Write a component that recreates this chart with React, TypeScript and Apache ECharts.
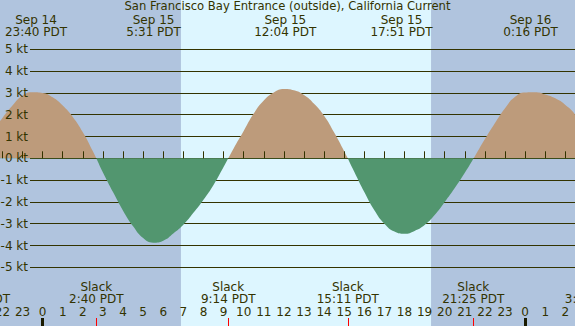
import React, { useEffect, useRef } from "react";
import * as echarts from "echarts";

const W = 575;
const H = 326;

// hours measured from Sep 15 00:00 PDT
const xMin = -2.12;
const xMax = 26.48;
const yMin = -7.69;
const yMax = 7.26;

const TITLE = "San Francisco Bay Entrance (outside), California Current";

// current speed (kt), every half hour
const curveHours = [
  -3.0, -2.5, -2.0, -1.5, -1.0, -0.5, 0.0, 0.5, 1.0, 1.5, 2.0, 2.5,
  3.0, 3.5, 4.0, 4.5, 5.0, 5.5, 6.0, 6.5, 7.0, 7.5, 8.0, 8.5, 9.0,
  9.5, 10.0, 10.5, 11.0, 11.5, 12.0, 12.5, 13.0, 13.5, 14.0, 14.5, 15.0,
  15.5, 16.0, 16.5, 17.0, 17.5, 18.0, 18.5, 19.0, 19.5, 20.0, 20.5, 21.0,
  21.5, 22.0, 22.5, 23.0, 23.5, 24.0, 24.5, 25.0, 25.5, 26.0, 26.5, 27.0, 27.5,
];
const curveKnots = [
  0.33, 1.2, 1.85, 2.42, 2.88, 3.03, 3.0, 2.8, 2.42, 1.9, 1.2, 0.32,
  -0.65, -1.55, -2.4, -3.12, -3.66, -3.87, -3.78, -3.45, -3.05, -2.5, -1.9, -1.22, -0.4,
  0.45, 1.25, 2.05, 2.65, 3.02, 3.18, 3.12, 2.9, 2.5, 1.95, 1.18, 0.32,
  -0.62, -1.55, -2.38, -3.0, -3.36, -3.46, -3.33, -3.06, -2.6, -2.0, -1.36, -0.66,
  0.1, 0.88, 1.62, 2.3, 2.82, 3.02, 3.03, 2.93, 2.75, 2.45, 1.98, 1.0, -0.3,
];

// max flood / max ebb events (top labels)
const eventHours = [-0.33, 5.52, 12.07, 17.85, 24.27];
const eventDates = ["Sep 14", "Sep 15", "Sep 15", "Sep 15", "Sep 16"];
const eventTimes = ["23:40 PDT", "5:31 PDT", "12:04 PDT", "17:51 PDT", "0:16 PDT"];

// slack water (bottom labels)
const slackHours = [-3.17, 2.67, 9.23, 15.18, 21.42, 27.33];
const slackTimes = ["20:50 PDT", "2:40 PDT", "9:14 PDT", "15:11 PDT", "21:25 PDT", "3:20 PDT"];

// hour ticks along the bottom
const hourTicks = [
  -2, -1, 0, 1, 2, 3, 4, 5, 6, 7, 8, 9, 10, 11, 12, 13, 14,
  15, 16, 17, 18, 19, 20, 21, 22, 23, 24, 25, 26,
];
const midnightTicks = [0, 24];

// daylight (sunrise, sunset)
const daylight = [6.88, 19.32];

// knot gridlines
const ktMin = -5;
const ktMax = 5;

const NIGHT = "#b0c4de";
const DAY = "#ddf6ff";
const FLOOD = "#bd9b7b";
const EBB = "#52966f";
const INK = "#333300";
const FONT = "DejaVu Sans";

function nearestIndex(arr: number[], v: number) {
  let best = 0;
  for (let i = 1; i < arr.length; i++) {
    if (Math.abs(arr[i] - v) < Math.abs(arr[best] - v)) best = i;
  }
  return best;
}

export default function App() {
  const ref = useRef<HTMLDivElement>(null);

  useEffect(() => {
    document.body.style.margin = "0";
    if (!ref.current) return;
    const chart = echarts.init(ref.current, undefined, { renderer: "svg" });

    const zeroY = (H * yMax) / (yMax - yMin);
    const r = zeroY / H;
    const g1Top = (H * (yMax - ktMax)) / (yMax - yMin);
    const g1Bottom = (H * (ktMin - yMin)) / (yMax - yMin);

    const baseX = { type: "value", min: xMin, max: xMax, gridIndex: 0, z: 3, splitLine: { show: false }, axisLine: { show: false } };

    chart.setOption({
      animation: false,
      textStyle: { fontFamily: FONT, color: INK },
      title: {
        text: TITLE,
        left: "center",
        top: 0,
        padding: 0,
        textStyle: { fontSize: 11.6, fontWeight: "normal", color: INK, fontFamily: FONT },
      },
      grid: [
        { left: 0, right: 0, top: 0, bottom: 0, show: true, backgroundColor: NIGHT, borderWidth: 0, containLabel: false, outerBoundsMode: "none" },
        { left: 30, right: 0, top: g1Top, bottom: g1Bottom, show: false, containLabel: false, outerBoundsMode: "none" },
      ],
      xAxis: [
        {
          ...baseX,
          position: "bottom",
          axisTick: { show: true, inside: true, length: 7, customValues: hourTicks, lineStyle: { color: INK, width: 1 } },
          axisLabel: {
            show: true, inside: true, margin: 8, customValues: hourTicks,
            fontSize: 12, color: INK, fontFamily: FONT,
            formatter: (v: number) => String(((Math.round(v) % 24) + 24) % 24),
          },
        },
        {
          ...baseX,
          position: "bottom",
          axisTick: { show: true, inside: true, length: 8, customValues: midnightTicks, lineStyle: { color: "#1a1a00", width: 3 } },
          axisLabel: { show: false },
        },
        {
          ...baseX,
          position: "bottom",
          axisTick: { show: true, inside: true, length: 8, customValues: slackHours, lineStyle: { color: "#ff0000", width: 1 } },
          axisLabel: {
            show: true, inside: true, margin: 21, customValues: slackHours,
            fontSize: 12, lineHeight: 12, color: INK, fontFamily: FONT,
            formatter: (v: number) => "Slack\n" + slackTimes[nearestIndex(slackHours, v)],
          },
        },
        {
          ...baseX,
          position: "top",
          axisTick: { show: false },
          axisLabel: {
            show: true, inside: true, margin: 14, customValues: eventHours,
            fontSize: 12, lineHeight: 12, color: INK, fontFamily: FONT,
            formatter: (v: number) => {
              const i = nearestIndex(eventHours, v);
              return eventDates[i] + "\n" + eventTimes[i];
            },
          },
        },
        { type: "value", gridIndex: 1, min: 0, max: 1, show: false },
      ],
      yAxis: [
        { type: "value", gridIndex: 0, min: yMin, max: yMax, show: false },
        {
          type: "value", gridIndex: 1, min: ktMin, max: ktMax, interval: 1, z: 1.5,
          axisLine: { show: false }, axisTick: { show: false }, axisLabel: { show: false },
          splitLine: { show: true, lineStyle: { color: INK, width: 1 } },
        },
        {
          type: "value", gridIndex: 1, min: ktMin, max: ktMax, interval: 1, z: 4, position: "left",
          axisLine: { show: false }, axisTick: { show: false }, splitLine: { show: false },
          axisLabel: { show: true, margin: 2, fontSize: 12, color: INK, fontFamily: FONT, formatter: (v: number) => `${v} kt` },
        },
      ],
      series: [
        {
          type: "line",
          xAxisIndex: 0,
          yAxisIndex: 0,
          data: [],
          z: 1,
          silent: true,
          markArea: {
            silent: true,
            z: 1,
            itemStyle: { color: DAY },
            data: [[{ xAxis: daylight[0] }, { xAxis: daylight[1] }]],
          },
        },
        {
          type: "line",
          xAxisIndex: 0,
          yAxisIndex: 0,
          z: 2,
          silent: true,
          smooth: 0.5,
          symbol: "none",
          lineStyle: { width: 0, opacity: 0 },
          areaStyle: {
            opacity: 1,
            color: new echarts.graphic.LinearGradient(0, 0, 0, H, [
              { offset: 0, color: FLOOD },
              { offset: r, color: FLOOD },
              { offset: r, color: EBB },
              { offset: 1, color: EBB },
            ], true),
          },
          data: curveHours.map((h, i) => [h, curveKnots[i]]),
        },
      ],
    });

    // slack labels whose centres fall outside the visible time range
    const extra: any[] = [];
    slackHours.forEach((h, i) => {
      if (h < xMin || h > xMax) {
        const px = chart.convertToPixel({ xAxisIndex: 0 }, h) as number;
        extra.push({
          type: "text",
          x: px,
          y: H - 21,
          z: 10,
          style: {
            text: "Slack\n" + slackTimes[i],
            fill: INK,
            font: `12px "${FONT}"`,
            lineHeight: 12,
            align: "center",
            verticalAlign: "bottom",
          },
        });
      }
    });
    chart.setOption({ graphic: extra });

    return () => chart.dispose();
  }, []);

  return <div ref={ref} style={{ width: W, height: H }} />;
}
